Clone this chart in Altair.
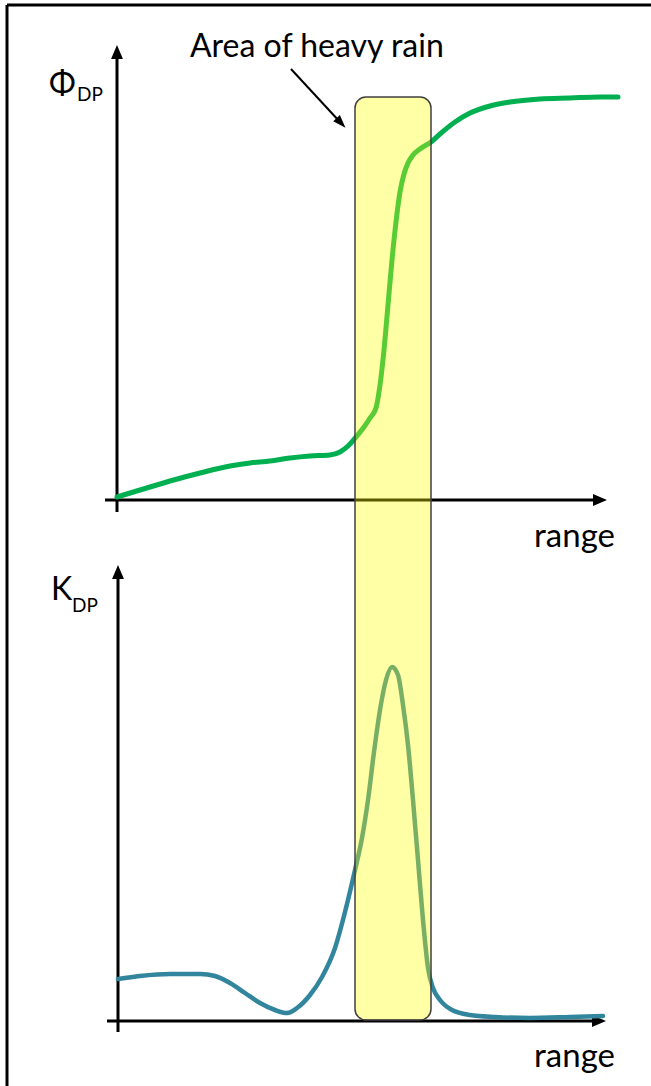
import altair as alt
import pandas as pd

W, H = 651, 1086

# ---- data (chart pixel frame: x to the right, y downward) ----
phi_x = [117, 140, 170, 200, 230, 250, 270, 290, 310, 330, 340, 348, 356, 364, 370, 376,
         380, 384, 388, 392, 396, 400, 404, 408, 413, 420, 431, 440, 455, 470, 490, 510,
         540, 570, 600, 618]
phi_y = [497, 490, 481, 473, 466, 463, 461, 458, 456, 455, 452, 446, 437, 427, 418, 408,
         385, 350, 305, 260, 222, 192, 174, 163, 155, 149, 142, 134, 122, 113, 106, 102,
         99, 98, 97, 97]

kdp_x = [118, 140, 170, 200, 215, 230, 245, 260, 275, 287, 297, 310, 322, 335, 345, 355,
         362, 368, 374, 380, 386, 392, 398, 403, 408, 413, 418, 423, 428, 433, 440, 452,
         470, 495, 530, 570, 603]
kdp_y = [979, 976, 974, 974, 976, 983, 993, 1003, 1010, 1013, 1008, 995, 977, 948, 912, 870,
         838, 800, 752, 710, 680, 667, 675, 705, 745, 800, 860, 920, 968, 988, 1000, 1010,
         1015, 1017, 1018, 1017, 1016]

frame_x = [7, 7]
frame_y = [5, 5]
frame_x2 = [651, 7]
frame_y2 = [5, 1086]

axis_x = [117, 105, 118, 107]
axis_y = [512, 500, 1032, 1021]
axis_x2 = [117, 596, 118, 595]
axis_y2 = [55, 500, 575, 1021]

up_heads_x = [117, 118]
up_heads_y = [52, 572]
right_heads_x = [600, 599]
right_heads_y = [500, 1021]

band_x, band_x2 = [355], [431]
band_y, band_y2 = [97], [1020]

note_x, note_y, note_x2, note_y2 = [291], [69], [340], [122]
note_head_x, note_head_y = [341], [123]

title_txt = ["Area of heavy rain"]
title_x, title_y = [190], [57]
range_txt = ["range", "range"]
range_x = [615, 615]
range_y = [547, 1067]

sym = ["Φ", "K"]
sym_x = [49, 51]
sym_y = [94, 600]
sub = ["DP", "DP"]
sub_x = [77, 72]
sub_y = [101, 612]

# ---- scales ----
xs = alt.Scale(domain=[0, W], nice=False, zero=False)
ys = alt.Scale(domain=[0, H], nice=False, zero=False, reverse=True)

def X(f="x"):
    return alt.X(f"{f}:Q", scale=xs, axis=None)

def Y(f="y"):
    return alt.Y(f"{f}:Q", scale=ys, axis=None)

frame = alt.Chart(pd.DataFrame(dict(x=frame_x, y=frame_y, x2=frame_x2, y2=frame_y2))).mark_rule(
    color="black", strokeWidth=3).encode(x=X(), y=Y(), x2="x2:Q", y2="y2:Q")

axes = alt.Chart(pd.DataFrame(dict(x=axis_x, y=axis_y, x2=axis_x2, y2=axis_y2))).mark_rule(
    color="black", strokeWidth=3).encode(x=X(), y=Y(), x2="x2:Q", y2="y2:Q")

up_path = "M-0.85,1 L0,-1 L0.85,1 Z"
right_path = "M-1,-0.85 L1,0 L-1,0.85 Z"

up_heads = alt.Chart(pd.DataFrame(dict(x=up_heads_x, y=up_heads_y))).mark_point(
    shape=up_path, filled=True, color="black", opacity=1, size=196, strokeWidth=0).encode(x=X(), y=Y())
right_heads = alt.Chart(pd.DataFrame(dict(x=right_heads_x, y=right_heads_y))).mark_point(
    shape=right_path, filled=True, color="black", opacity=1, size=196, strokeWidth=0).encode(x=X(), y=Y())

phi_line = alt.Chart(pd.DataFrame(dict(x=phi_x, y=phi_y))).mark_line(
    color="#00B050", strokeWidth=5, interpolate="monotone", strokeCap="round").encode(x=X(), y=Y())
kdp_line = alt.Chart(pd.DataFrame(dict(x=kdp_x, y=kdp_y))).mark_line(
    color="#31859C", strokeWidth=4.5, interpolate="monotone", strokeCap="round").encode(x=X(), y=Y())

band = alt.Chart(pd.DataFrame(dict(x=band_x, x2=band_x2, y=band_y, y2=band_y2))).mark_rect(
    fill="#FFFF00", fillOpacity=0.35, stroke="#404040", strokeWidth=1.5, cornerRadius=11).encode(
    x=X(), x2="x2:Q", y=Y(), y2="y2:Q")

note = alt.Chart(pd.DataFrame(dict(x=note_x, y=note_y, x2=note_x2, y2=note_y2))).mark_rule(
    color="black", strokeWidth=2).encode(x=X(), y=Y(), x2="x2:Q", y2="y2:Q")
note_head = alt.Chart(pd.DataFrame(dict(x=note_head_x, y=note_head_y))).mark_point(
    shape="M-0.7,1 L0,-1 L0.7,1 Z", filled=True, color="black", opacity=1, size=170,
    strokeWidth=0, angle=137).encode(x=X(), y=Y())

title = alt.Chart(pd.DataFrame(dict(x=title_x, y=title_y, t=title_txt))).mark_text(
    align="left", baseline="alphabetic", font="Lato", fontSize=32, color="black").encode(
    x=X(), y=Y(), text="t:N")
range_text = alt.Chart(pd.DataFrame(dict(x=range_x, y=range_y, t=range_txt))).mark_text(
    align="right", baseline="alphabetic", font="Lato", fontSize=33, color="black").encode(
    x=X(), y=Y(), text="t:N")
sym_text = alt.Chart(pd.DataFrame(dict(x=sym_x, y=sym_y, t=sym))).mark_text(
    align="left", baseline="alphabetic", font="Lato", fontSize=32, color="black").encode(
    x=X(), y=Y(), text="t:N")
sub_text = alt.Chart(pd.DataFrame(dict(x=sub_x, y=sub_y, t=sub))).mark_text(
    align="left", baseline="alphabetic", font="Lato", fontSize=19, color="black").encode(
    x=X(), y=Y(), text="t:N")

chart = alt.layer(
    frame, axes, up_heads, right_heads, phi_line, kdp_line, band, note, note_head,
    title, range_text, sym_text, sub_text
).properties(width=W, height=H, padding=0, autosize="none", background="white").configure_view(stroke=None)

chart.save("out.html", embed_options={"renderer": "svg", "actions": False})
